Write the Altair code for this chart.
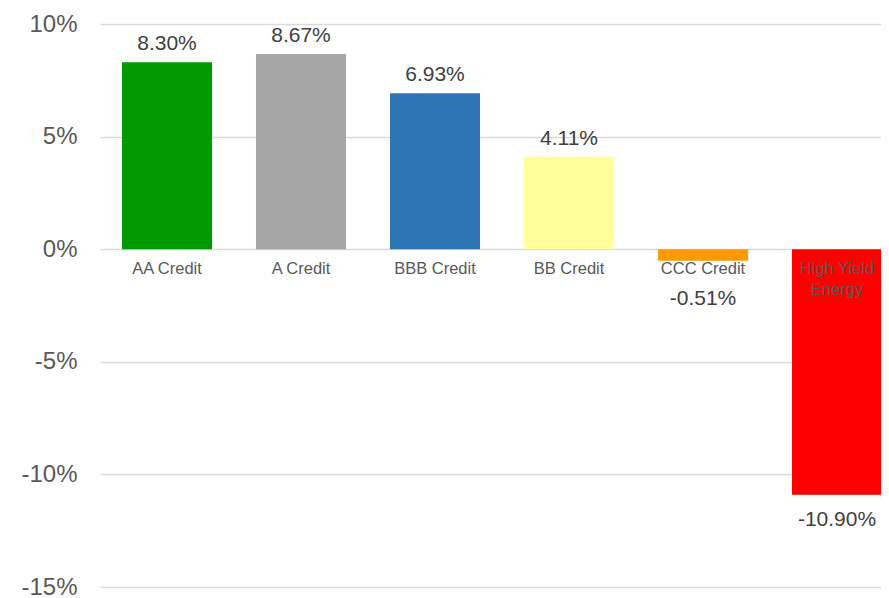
import altair as alt
import pandas as pd

categories = ["AA Credit", "A Credit", "BBB Credit", "BB Credit", "CCC Credit", "High Yield Energy"]
returns_pct = [8.30, 8.67, 6.93, 4.11, -0.51, -10.90]
bar_colors = ["#009900", "#a6a6a6", "#2e75b6", "#ffff99", "#ff9900", "#ff0000"]
y_ticks = [-15, -10, -5, 0, 5, 10]

df = pd.DataFrame({
    "cat": categories,
    "v": returns_pct,
    "label": [f"{v:.2f}%" for v in returns_pct],
    "catlabel": [c.replace("High Yield ", "High Yield\n") for c in categories],
})

FONT = "Liberation Sans"

x = alt.X("cat:N", sort=categories, axis=None,
          scale=alt.Scale(range=[0, 804], paddingInner=0.328, paddingOuter=0.164))
yscale = alt.Scale(domain=[-15, 10], nice=False, zero=True)

bars = alt.Chart(df).mark_bar().encode(
    x=x,
    y=alt.Y("v:Q", scale=yscale,
            axis=alt.Axis(values=y_ticks, title=None, domain=False, ticks=False,
                          labelExpr="datum.value + '%'", labelFont=FONT, labelFontSize=24,
                          labelColor="#595959", labelPadding=23, gridColor="#d9d9d9",
                          gridWidth=1.3)),
    y2=alt.datum(0),
    color=alt.Color("cat:N", sort=categories,
                    scale=alt.Scale(domain=categories, range=bar_colors), legend=None),
)

pos_labels = alt.Chart(df).transform_filter("datum.v >= 0").mark_text(
    font=FONT, fontSize=21, color="#404040", baseline="alphabetic", dy=-12
).encode(x=x, y=alt.Y("v:Q", scale=yscale), text="label:N")

neg_labels = alt.Chart(df).transform_filter("datum.v < 0").transform_calculate(
    anchor="min(datum.v, -1.1)"
).mark_text(
    font=FONT, fontSize=21, color="#404040", baseline="alphabetic", dy=31
).encode(x=x, y=alt.Y("anchor:Q", scale=yscale), text="label:N")

cat_labels = alt.Chart(df).mark_text(
    font=FONT, fontSize=16.5, color="#595959", baseline="top", dy=12, lineBreak="\n",
    lineHeight=21
).encode(x=x, y=alt.datum(0), text="catlabel:N")

chart = alt.layer(bars, pos_labels, neg_labels, cat_labels).properties(
    width=781, height=563,
    autosize=alt.AutoSizeParams(type="none"),
    padding={"left": 92, "top": 16, "right": 0, "bottom": 11},
).configure(background="white").configure_view(stroke=None)

chart.save("out.html", embed_options={"renderer": "svg", "actions": False})
